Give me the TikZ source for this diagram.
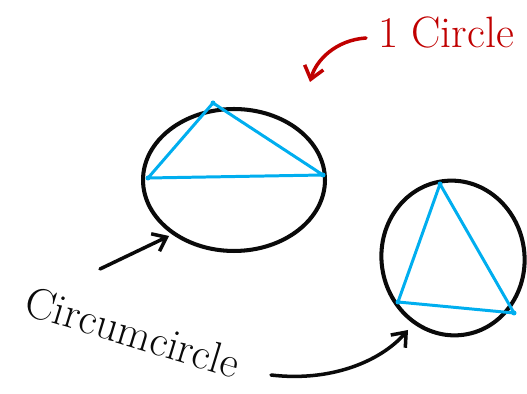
\documentclass[tikz,border=0pt]{standalone}
\usepackage{xcolor}
\usepackage{tikz}
\usetikzlibrary{arrows.meta,positioning,shapes.geometric}
\definecolor{inkblack}{RGB}{10,10,10}
\definecolor{inkblue} {RGB}{0,174,239}
\definecolor{inkred}  {RGB}{192,0,0}
\tikzset{
  circbox/.style ={draw=inkblack, ellipse, line width=2.3pt, inner sep=0pt},
  tri/.style     ={draw=inkblue, line width=1.7pt, line join=round},
  vdot/.style    ={fill=inkblue},
  harr/.style    ={-{Straight Barb[length=7pt,width=11pt]}, line width=2pt,
                   line cap=round, draw=inkblack},
  rarr/.style    ={harr, draw=inkred},
  hand/.style    ={font=\fontsize{25}{27}\selectfont, inner sep=1pt},
}

\begin{document}
\begin{tikzpicture}[x=0.02cm,y=-0.02cm]
  \useasboundingbox (0,0) rectangle (527,394);
  % left circle
  \node[circbox, minimum width=3.64cm, minimum height=2.84cm] (circA) at (234,180) {};
  \coordinate (a1) at (213,103);
  \coordinate (a2) at (148,178);
  \coordinate (a3) at (323,175);
  \draw[tri] (a1) -- (a2) -- (a3) -- cycle;
  \foreach \p in {a1,a2,a3} \fill[vdot] (\p) circle (2.5);
  % right circle
  \node[circbox, minimum width=2.86cm, minimum height=3.1cm, rotate=8] (circB) at (453,258) {};
  \coordinate (b1) at (440,184);
  \coordinate (b2) at (398,302);
  \coordinate (b3) at (514,313);
  \draw[tri] (b1) -- (b2) -- (b3) -- cycle;
  \foreach \p in {b1,b2,b3} \fill[vdot] (\p) circle (2.5);
  % labels
  \node[hand, text=inkred] (one) at (446,33) {1 Circle};
  \node[hand, text=inkblack, rotate=-17] (cc) at (133,332) {Circumcircle};
  \coordinate (rtail) at (366,38);
  \coordinate (rtip) at (310,82);
  \draw[rarr] (rtail) .. controls (336,40) and (316,60) .. (rtip);
  \coordinate (atail) at (100,269);
  \coordinate (atip) at (169,236);
  \draw[harr] (atail) -- (atip);
  \coordinate (btail) at (271,375);
  \coordinate (btip) at (408,330);
  \draw[harr] (btail) .. controls (330,382) and (380,362) .. (btip);
\end{tikzpicture}
\end{document}
